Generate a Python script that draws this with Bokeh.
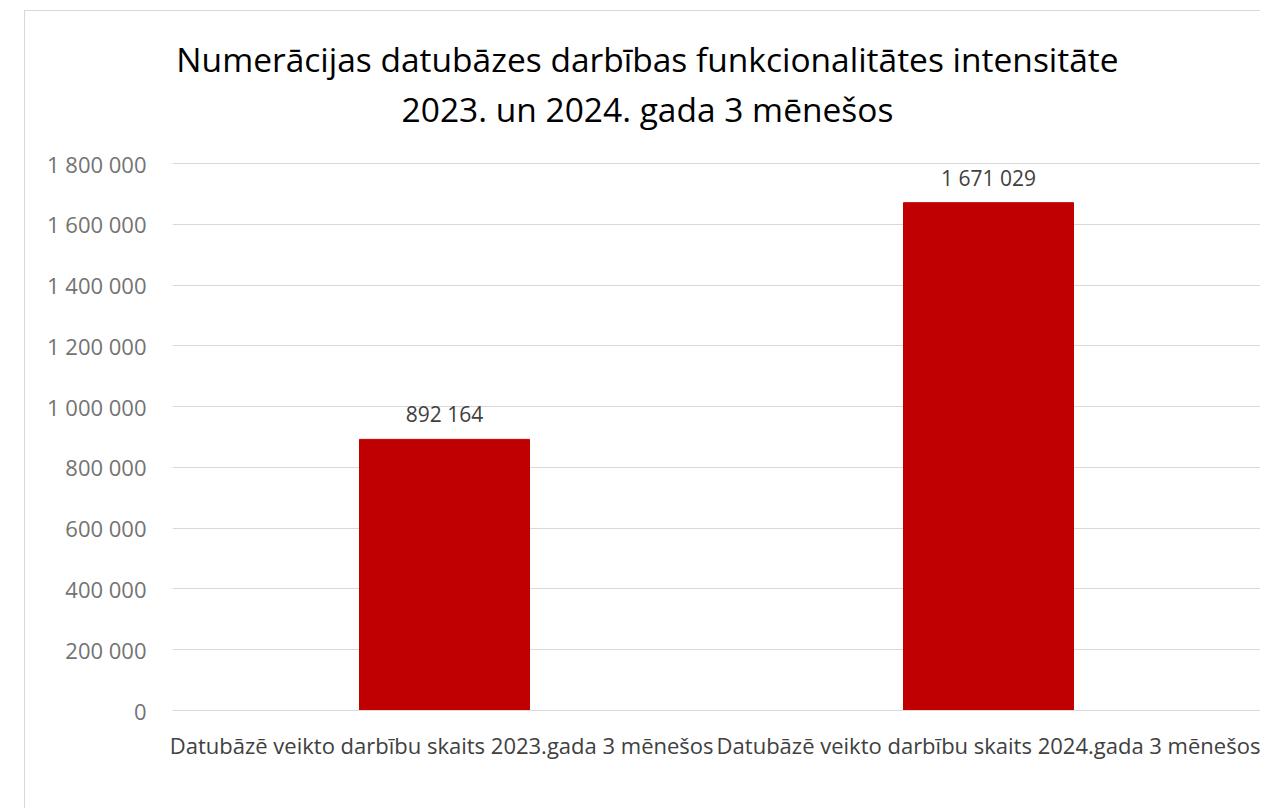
from bokeh.plotting import figure
from bokeh.models import (ColumnDataSource, FactorRange, Range1d, FixedTicker,
                          CustomJSTickFormatter, LabelSet, Label)
from bokeh.core.properties import value
from bokeh.embed import file_html
from bokeh.resources import INLINE

# ---- data ----
categories = ["Datubāzē veikto darbību skaits  2023.gada 3 mēnešos",
              "Datubāzē veikto darbību skaits 2024.gada 3 mēnešos"]
values = [892164, 1671029]
y_ticks = [0, 200000, 400000, 600000, 800000, 1000000, 1200000, 1400000, 1600000, 1800000]
title_lines = ["Numerācijas datubāzes darbības funkcionalitātes intensitāte",
               "2023. un 2024. gada 3 mēnešos"]

FONT = "Open Sans"

# ---- layout (pixels) ----
FIG_W, FIG_H = 1236, 798
FRAME_LEFT, FRAME_RIGHT = 147, 1235
FRAME_TOP, FRAME_BOTTOM = 0, 699
GRID_TOP = 152            # pixel row of the top tick (1 800 000) in the figure
plot_h = FRAME_BOTTOM - FRAME_TOP
y_max = y_ticks[-1] * plot_h / (FRAME_BOTTOM - GRID_TOP)   # room above top tick for title


def fmt(v):
    return "{:,}".format(v).replace(",", " ")


src = ColumnDataSource(dict(cat=categories, val=values,
                            lbl=[fmt(v) for v in values]))

p = figure(x_range=FactorRange(*categories, range_padding=0),
           y_range=Range1d(0, y_max),
           width=FIG_W, height=FIG_H, output_backend="svg", toolbar_location=None,
           title_location=None,
           min_border_left=FRAME_LEFT, min_border_right=FIG_W - FRAME_RIGHT,
           min_border_top=FRAME_TOP, min_border_bottom=FIG_H - FRAME_BOTTOM,
           margin=(10, 0, 0, 24),
           styles={"border-left": "1px solid #d9d9d9", "border-top": "1px solid #d9d9d9"})
p.outline_line_color = None
p.background_fill_color = "white"
p.border_fill_color = "white"

p.vbar(x="cat", top="val", width=0.3125, source=src, color="#C00000")

labels = LabelSet(x="cat", y="val", text="lbl", source=src, text_align="center",
                  text_baseline="alphabetic", y_offset=17, text_font=value(FONT),
                  text_font_size=value("21px"), text_color=value("#404040"))
p.add_layout(labels)

# title lines, in screen units from the plot area's bottom-left corner
for line, yy in zip(title_lines, [652, 602]):
    p.add_layout(Label(x=475, y=yy, x_units="screen", y_units="screen", text=line,
                       text_align="center", text_baseline="alphabetic",
                       text_font=FONT, text_font_size="33.5px", text_color="#000000"))

p.yaxis.ticker = FixedTicker(ticks=y_ticks)
p.yaxis.formatter = CustomJSTickFormatter(
    code="return tick.toString().replace(/\\B(?=(\\d{3})+(?!\\d))/g, ' ');")
p.yaxis.axis_line_color = None
p.yaxis.major_tick_line_color = None
p.yaxis.minor_tick_line_color = None
p.yaxis.major_tick_out = 0
p.yaxis.major_tick_in = 0
p.yaxis.major_label_text_font = FONT
p.yaxis.major_label_text_font_size = "22px"
p.yaxis.major_label_text_color = "#737373"
p.yaxis.major_label_standoff = 26

p.xaxis.axis_line_color = "#d9d9d9"
p.xaxis.major_tick_line_color = None
p.xaxis.minor_tick_line_color = None
p.xaxis.major_tick_out = 0
p.xaxis.major_tick_in = 0
p.xaxis.major_label_text_font = FONT
p.xaxis.major_label_text_font_size = "22px"
p.xaxis.major_label_text_color = "#404040"
p.xaxis.major_label_standoff = 19

p.xgrid.grid_line_color = None
p.ygrid.ticker = FixedTicker(ticks=y_ticks)
p.ygrid.grid_line_color = "#d9d9d9"
p.ygrid.grid_line_width = 1

open("out.html", "w").write(file_html(p, INLINE))
